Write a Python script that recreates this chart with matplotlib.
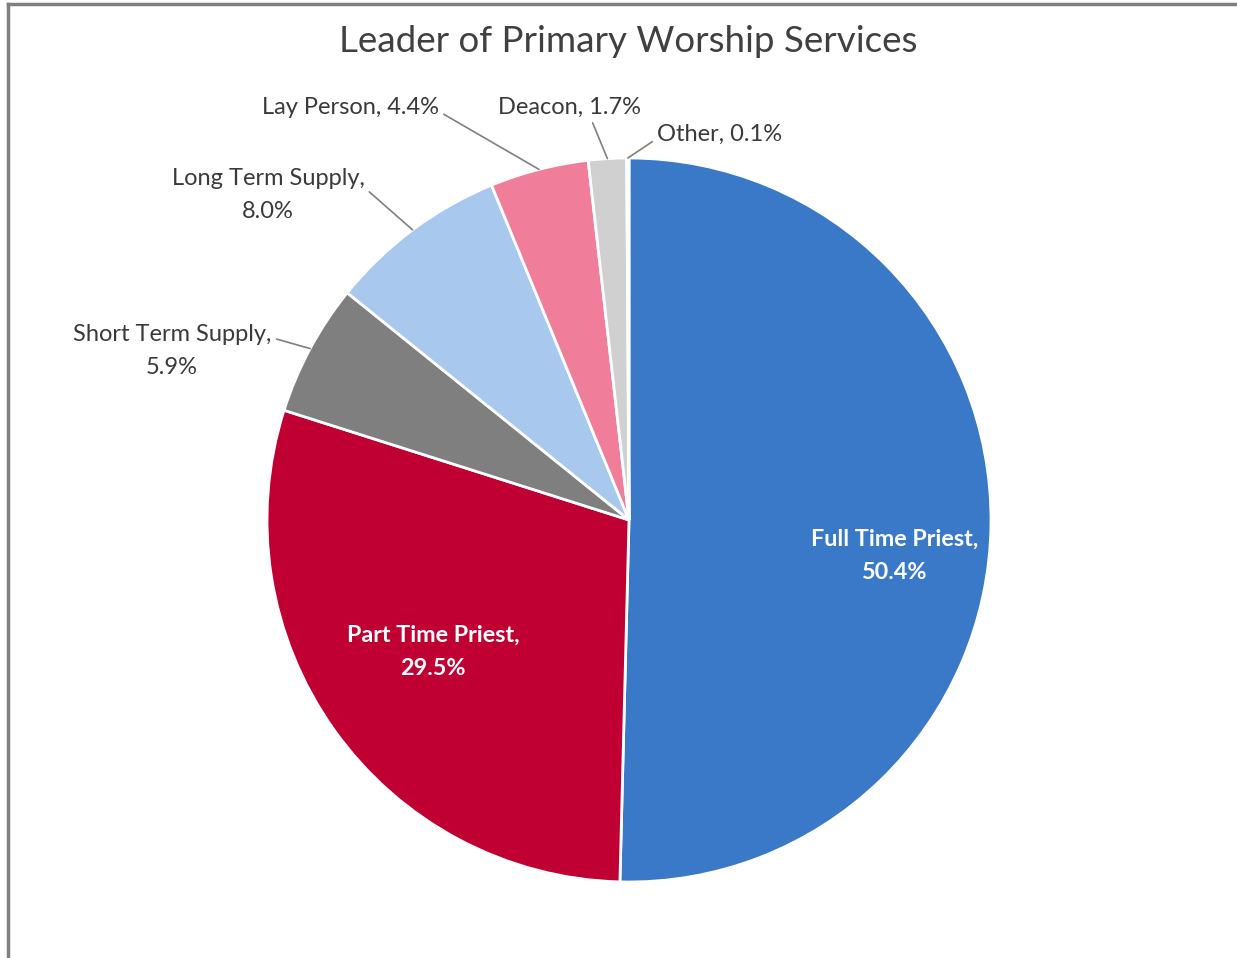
import numpy as np
import matplotlib.pyplot as plt
from matplotlib.lines import Line2D

categories = ["Full Time Priest", "Part Time Priest", "Short Term Supply",
              "Long Term Supply", "Lay Person", "Deacon", "Other"]
shares = [50.4, 29.5, 5.9, 8.0, 4.4, 1.7, 0.1]
colors = ["#3a78c8", "#c00032", "#7f7f7f", "#a9c8ee", "#f07e9a", "#d0d0d0", "#c8c8c8"]

W, H = 1237, 958
fig = plt.figure(figsize=(W / 100, H / 100), dpi=100)
plt.rcParams['font.family'] = ['Lato', 'DejaVu Sans']

# pie centre / radius in pixels (from top-left)
cx, cy, r = 629, 520, 362
ax = fig.add_axes([(cx - r) / W, (H - cy - r) / H, 2 * r / W, 2 * r / H])
wedges, _ = ax.pie(shares, colors=colors, startangle=90, counterclock=False,
                   radius=1, wedgeprops=dict(edgecolor='white', linewidth=2))
ax.set_xlim(-1, 1)
ax.set_ylim(-1, 1)
ax.set_aspect('equal')
ax.axis('off')

def px(x, y):
    return (x, H - y)

# label layout: centre of each label in pixels
label_pos = {
    "Full Time Priest": (895, 556),
    "Part Time Priest": (433, 652),
    "Short Term Supply": (172, 351),
    "Long Term Supply": (268, 195),
    "Lay Person": (350, 107),
    "Deacon": (569, 107),
    "Other": (720, 134),
}
two_line = {"Full Time Priest", "Part Time Priest", "Short Term Supply", "Long Term Supply"}
inside = {"Full Time Priest", "Part Time Priest"}
relpos = {
    "Short Term Supply": (1.0, 0.75),
    "Long Term Supply": (0.98, 0.7),
    "Lay Person": (1.0, 0.3),
    "Deacon": (0.65, 0.0),
    "Other": (0.0, 0.3),
}

for w, cat, val in zip(wedges, categories, shares):
    sep = ",\n" if cat in two_line else ", "
    txt = f"{cat}{sep}{val:.1f}%"
    pos = px(*label_pos[cat])
    if cat in inside:
        fig.text(pos[0] / W, pos[1] / H, txt, ha='center', va='center', color='white',
                 fontsize=16.8, fontweight='bold', linespacing=1.7)
    else:
        ang = np.deg2rad((w.theta1 + w.theta2) / 2)
        ax.annotate(txt, xy=(np.cos(ang), np.sin(ang)), xycoords='data',
                    xytext=pos, textcoords='figure pixels', ha='center', va='center',
                    color='#3a3a3a', fontsize=17, linespacing=1.7,
                    arrowprops=dict(arrowstyle='-', color='#808080', lw=1.2,
                                    shrinkA=2, shrinkB=0, relpos=relpos[cat]))

fig.text(628 / W, 1 - 41 / H, "Leader of Primary Worship Services", ha='center', va='center',
         color='#404040', fontsize=26.5)

# frame lines at top and left
fig.add_artist(Line2D([8 / W, 1], [1 - 4 / H, 1 - 4 / H], color='#808080', lw=2.5,
                      transform=fig.transFigure))
fig.add_artist(Line2D([8 / W, 8 / W], [0, 1 - 4 / H], color='#808080', lw=2.5,
                      transform=fig.transFigure))

fig.savefig("out.png", dpi=100, facecolor='white')
